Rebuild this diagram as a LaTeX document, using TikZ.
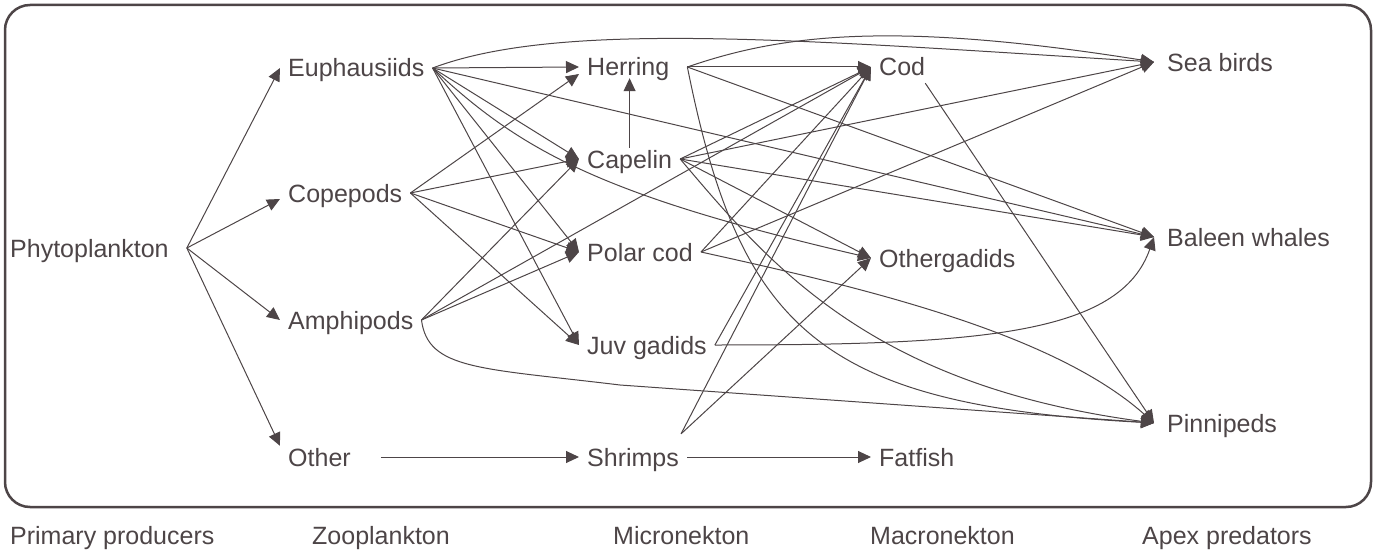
\documentclass[tikz,border=0pt]{standalone}
\usepackage{fontspec}
\setmainfont{Liberation Sans}
\usepackage{tikz}
\usetikzlibrary{arrows.meta}
\definecolor{web_dark}{HTML}{4D4547}

\begin{document}
\begin{tikzpicture}[
    x=1pt, y=-1pt,
    species/.style={anchor=west, inner xsep=8pt, inner ysep=2pt,
        text height=18pt, text depth=0pt, text=web_dark,
        font=\fontsize{25}{30}\selectfont},
    apex/.style={species, inner xsep=13pt},
    level/.style={species, inner xsep=0pt},
    link/.style={web_dark, line width=1pt, line join=round,
        -{Triangle[length=13pt, width=12pt]}}
]

% Canvas in pixels of the 1385 x 551 figure, y pointing down
\useasboundingbox (0,0) rectangle (1385,551);

% Rounded frame round the web
\draw[web_dark, line width=2.5pt, rounded corners=25pt] (5,5) rectangle (1371,507);

% Primary producers
\node[species] (phyto) at (2,248) {Phytoplankton};

% Zooplankton
\node[species] (euph)  at (280,68)  {Euphausiids};
\node[species] (cop)   at (280,193) {Copepods};
\node[species] (amph)  at (280,320) {Amphipods};
\node[species] (other) at (280,457) {Other};

% Micronekton
\node[species] (herring)  at (579,67)  {Herring};
\node[species] (capelin)  at (579,159) {Capelin};
\node[species] (polarcod) at (579,252) {Polar cod};
\node[species] (juv)      at (579,345) {Juv gadids};
\node[species] (shrimps)  at (579,457) {Shrimps};

% Macronekton
\node[species] (cod)     at (871,67)  {Cod};
\node[species] (ogad)    at (871,258) {Othergadids};
\node[species] (fatfish) at (871,457) {Fatfish};

% Apex predators
\node[apex] (seabirds) at (1154,62)  {Sea birds};
\node[apex] (baleen)   at (1154,237) {Baleen whales};
\node[apex] (pinni)    at (1154,423) {Pinnipeds};

% Level names under the frame
\node[level] (lvprim)  at (10,535)   {Primary producers};
\node[level] (lvzoo)   at (312,535)  {Zooplankton};
\node[level] (lvmicro) at (613,535)  {Micronekton};
\node[level] (lvmacro) at (870,535)  {Macronekton};
\node[level] (lvapex)  at (1142,535) {Apex predators};

% Points where the links leave a few of the labels
\coordinate (phyto-out)   at ([xshift=10pt]phyto.east);
\coordinate (other-out)   at ([xshift=22pt]other.east);
\coordinate (herring-out) at ([xshift=10pt]herring.east);
\coordinate (shrimps-up)  at ([xshift=-6pt,yshift=12pt]shrimps.north east);
\coordinate (cod-out)     at ([xshift=-8pt,yshift=-5pt]cod.south east);

% Phytoplankton -> zooplankton
\foreach \z in {euph, amph}
    \draw[link] (phyto-out) -- (\z.west);
\draw[link] (phyto-out) -- ([yshift=-6pt]cop.west);
\draw[link] (phyto-out) -- (other.north west);

% Zooplankton -> micronekton
\foreach \m in {herring, capelin, polarcod, juv}
    \draw[link] (euph.east) -- (\m.west);
\foreach \m in {capelin, polarcod, juv}
    \draw[link] (cop.east) -- (\m.west);
\draw[link] (cop.east) -- ([yshift=-7pt]herring.west);
\foreach \m in {capelin, polarcod, cod}
    \draw[link] (amph.east) -- (\m.west);
\draw[link] (euph.east) -- (baleen.west);
\draw[link] (euph.east) .. controls (560,20) and (800,40) .. (seabirds.west);
\draw[link] (euph.east) .. controls (520,150) and (600,195) .. (ogad.west);
\draw[link] (amph.east) .. controls (428,370) and (480,368) .. (620,385) -- (pinni.west);
\draw[link] (other-out) -- (shrimps.west);

% Micronekton -> macronekton and apex predators
\draw[link] (capelin.north) -- (capelin.north |- herring.south);
\foreach \t in {cod, baleen}
    \draw[link] (herring-out) -- (\t.west);
\draw[link] (herring-out) .. controls (780,35) and (890,20) .. (seabirds.west);
\draw[link] (herring-out) .. controls (740,330) and (820,405) .. (pinni.west);
\foreach \t in {cod, seabirds, baleen, ogad}
    \draw[link] (capelin.east) -- (\t.west);
\draw[link] (capelin.east) .. controls (770,265) and (870,385) .. (pinni.west);
\foreach \t in {cod, seabirds}
    \draw[link] (polarcod.east) -- (\t.west);
\draw[link] (polarcod.east) .. controls (850,285) and (1050,330) .. (pinni.west);
\draw[link] (juv.east) -- (cod.west);
\draw[link] (juv.east) .. controls (980,345) and (1120,335) .. (baleen.west);
\foreach \t in {cod, ogad}
    \draw[link] (shrimps-up) -- (\t.west);
\draw[link] (shrimps.east) -- (fatfish.west);

% Macronekton -> apex predators
\draw[link] (cod-out) -- (pinni.west);

\end{tikzpicture}
\end{document}
